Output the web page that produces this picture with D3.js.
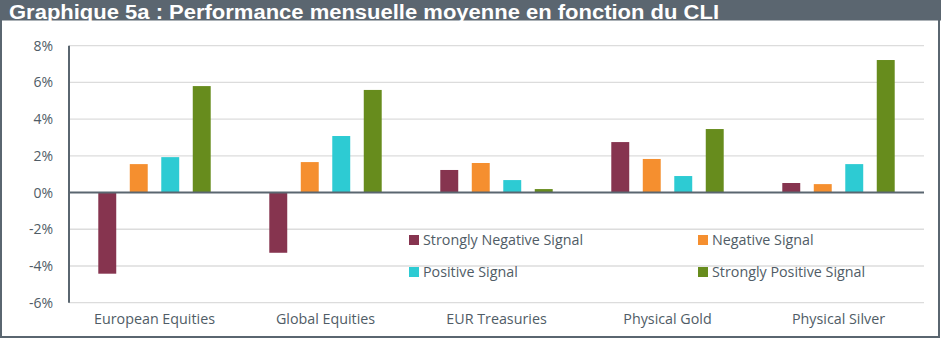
<!DOCTYPE html>
<html>
<head>
<meta charset="utf-8">
<script src="https://cdn.jsdelivr.net/npm/d3@7"></script>
<style>
  html, body { margin: 0; padding: 0; background: #fff; }
  svg { display: block; }
</style>
</head>
<body>
<svg id="chart" width="941" height="339"></svg>
<script>
const titleText = "Graphique 5a : Performance mensuelle moyenne en fonction du CLI";
const categories = ["European Equities", "Global Equities", "EUR Treasuries", "Physical Gold", "Physical Silver"];
const seriesNames = ["Strongly Negative Signal", "Negative Signal", "Positive Signal", "Strongly Positive Signal"];
const seriesColors = ["#86344f", "#f58f2f", "#2dcbd3", "#678c1d"];
const stronglyNegative = [-4.42, -3.28, 1.23, 2.75, 0.52];
const negative = [1.55, 1.66, 1.61, 1.83, 0.46];
const positive = [1.93, 3.08, 0.68, 0.90, 1.55];
const stronglyPositive = [5.80, 5.59, 0.19, 3.46, 7.22];
const yTicks = [-6, -4, -2, 0, 2, 4, 6, 8];

const seriesValues = [stronglyNegative, negative, positive, stronglyPositive];

const svg = d3.select("#chart");
const W = 941, H = 339;
const axisColor = "#5a6670";
const textColor = "#505c66";
const font = "'Open Sans', 'Noto Sans', sans-serif";

// frame and title bar
svg.append("rect").attr("x", 1).attr("y", 1).attr("width", W - 3).attr("height", H - 3)
  .attr("fill", "#fff").attr("stroke", axisColor).attr("stroke-width", 2);
svg.append("rect").attr("x", 0).attr("y", 0).attr("width", W).attr("height", 20.5).attr("fill", "#5b6670");
svg.append("text").attr("x", 9).attr("y", 18.5)
  .attr("font-family", "'Liberation Sans Narrow', 'Arial Narrow', 'Liberation Sans', sans-serif")
  .attr("font-weight", "bold").attr("font-size", 19.5).attr("fill", "#fff")
  .attr("textLength", 710).attr("lengthAdjust", "spacingAndGlyphs")
  .text(titleText);

const plot = { left: 69, right: 924, top: 45.7, bottom: 302.7 };

const y = d3.scaleLinear().domain([-6, 8]).range([plot.bottom, plot.top]);
const x0 = d3.scaleBand().domain(categories).range([plot.left, plot.right]).padding(0);
const x1 = d3.scaleBand().domain(seriesNames).range([0, x0.bandwidth()])
  .paddingInner(0.43).paddingOuter(0.93);

// gridlines
const grid = svg.append("g");
grid.selectAll("line").data(yTicks.filter(d => d !== 0)).join("line")
  .attr("x1", plot.left).attr("x2", plot.right)
  .attr("y1", d => y(d)).attr("y2", d => y(d))
  .attr("stroke", "#dcdcdc").attr("stroke-width", 1.3);

// y tick labels
const yAxis = d3.axisLeft(y).tickValues(yTicks).tickFormat(d => d + "%").tickSize(0).tickPadding(16);
const gy = svg.append("g").attr("transform", `translate(${plot.left},0)`).call(yAxis);
gy.select(".domain").remove();
gy.selectAll("text").attr("font-family", font).attr("font-size", 14).attr("fill", textColor);

// bars
const groups = svg.append("g").selectAll("g").data(categories).join("g")
  .attr("transform", d => `translate(${x0(d)},0)`);
groups.selectAll("rect")
  .data((c, i) => seriesNames.map((s, j) => ({ s, v: seriesValues[j][i], color: seriesColors[j] })))
  .join("rect")
  .attr("x", d => x1(d.s))
  .attr("width", x1.bandwidth())
  .attr("y", d => y(Math.max(0, d.v)))
  .attr("height", d => Math.abs(y(d.v) - y(0)))
  .attr("fill", d => d.color);

// zero line and left axis
svg.append("line").attr("x1", plot.left).attr("x2", plot.right)
  .attr("y1", y(0)).attr("y2", y(0)).attr("stroke", axisColor).attr("stroke-width", 2);
svg.append("line").attr("x1", plot.left).attr("x2", plot.left)
  .attr("y1", plot.top).attr("y2", plot.bottom).attr("stroke", axisColor).attr("stroke-width", 2);

// category labels
const xAxis = d3.axisBottom(x0).tickSize(0).tickPadding(0);
const gx = svg.append("g").attr("transform", `translate(0,${plot.bottom + 11})`).call(xAxis);
gx.select(".domain").remove();
gx.selectAll("text").attr("font-family", font).attr("font-size", 14.3).attr("fill", textColor)
  .attr("dy", "0.71em");

// legend
const legendPos = [[409, 240], [698, 240], [409, 272], [698, 272]];
const legend = svg.append("g").selectAll("g").data(seriesNames).join("g")
  .attr("transform", (d, i) => `translate(${legendPos[i][0]},${legendPos[i][1]})`);
legend.append("rect").attr("x", 0).attr("y", -5).attr("width", 10).attr("height", 10)
  .attr("fill", (d, i) => seriesColors[i]);
legend.append("text").attr("x", 14).attr("y", 0).attr("dy", "0.35em")
  .attr("font-family", font).attr("font-size", 14.3).attr("fill", textColor)
  .text(d => d);
</script>
</body>
</html>
